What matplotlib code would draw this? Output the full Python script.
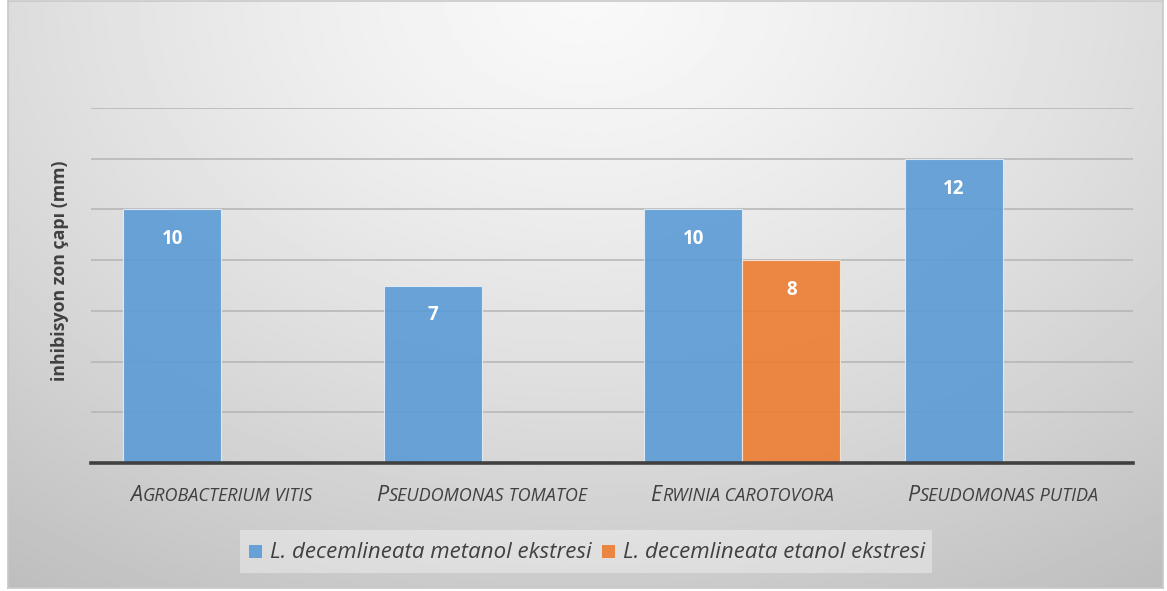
import numpy as np
import matplotlib
matplotlib.use("Agg")
import matplotlib.pyplot as plt
from matplotlib.patches import Rectangle

# --- data ---
bacteria = ["Agrobacterium vitis", "Pseudomonas tomatoe",
            "Erwinia carotovora", "Pseudomonas putida"]
metanol = [10, 7, 10, 12]
etanol = [None, None, 8, None]
series_names = ["L. decemlineata metanol ekstresi",
                "L. decemlineata etanol ekstresi"]

BLUE = "#5B9BD5"
ORANGE = "#ED7D31"
TEXT = "#404040"
FONT = "Open Sans"

fig = plt.figure(figsize=(11.67, 5.91), dpi=100)

# chart area background: soft radial grey gradient inside a thin frame
bg = fig.add_axes([8 / 1167, 3 / 591, 1155 / 1167, 587 / 591])
yy, xx = np.mgrid[0:1:300j, 0:1:600j]
r = np.sqrt(((xx - 0.5) / 0.75) ** 2 + ((yy - 0.0) / 1.05) ** 2)
shade = 0.975 - 0.19 * np.clip(r, 0, 1.2) ** 1.3
bg.imshow(shade, cmap="gray", vmin=0, vmax=1, aspect="auto",
          extent=[0, 1, 0, 1], origin="upper")
bg.set_xlim(0, 1)
bg.set_ylim(0, 1)
bg.set_xticks([])
bg.set_yticks([])
for s in bg.spines.values():
    s.set_color("#c8c8c8")
    s.set_linewidth(1.2)

ax = fig.add_axes([91 / 1167, 128 / 591, 1042 / 1167, 355 / 591])
ax.patch.set_alpha(0)

x = np.arange(len(bacteria))
w = 0.376
ax.set_xlim(-0.5, len(bacteria) - 0.5)
ax.set_ylim(0, 14)
ax.set_yticks(np.arange(0, 15, 2))
ax.yaxis.grid(True, color="#b4b4b4", linewidth=1.1)
ax.set_axisbelow(True)
ax.tick_params(axis="y", length=0, labelleft=False)
ax.tick_params(axis="x", length=0, labelbottom=False)
for side in ["top", "right", "left"]:
    ax.spines[side].set_visible(False)
ax.spines["bottom"].set_color(TEXT)
ax.spines["bottom"].set_linewidth(2.6)
ax.spines["bottom"].set_zorder(5)

for i, v in enumerate(metanol):
    if v is None:
        continue
    ax.bar(x[i] - w / 2, v, w, color=BLUE, alpha=0.9,
           edgecolor="#e6eef7", linewidth=0.8, zorder=3)
    ax.annotate(str(v), (x[i] - w / 2, v), xytext=(0, -30),
                textcoords="offset pixels",
                ha="center", va="center", color="white",
                fontsize=13.5, fontweight="bold", family=FONT, zorder=4)
for i, v in enumerate(etanol):
    if v is None:
        continue
    ax.bar(x[i] + w / 2, v, w, color=ORANGE, alpha=0.9,
           edgecolor="#f7e6dc", linewidth=0.8, zorder=3)
    ax.annotate(str(v), (x[i] + w / 2, v), xytext=(0, -30),
                textcoords="offset pixels",
                ha="center", va="center", color="white",
                fontsize=13.5, fontweight="bold", family=FONT, zorder=4)

ax.set_ylabel("inhibisyon zon çapı (mm)", fontsize=12.8, fontweight="bold",
              color=TEXT, family=FONT)
ax.yaxis.set_label_coords(-0.021, 0.541)

# small-caps italic category labels: big first letter + smaller capitals
renderer = fig.canvas.get_renderer()
label_y = 591 - 494
big, small = 15.5, 13
for i, name in enumerate(bacteria):
    parts = []
    for word_i, word in enumerate(name.split()):
        if word_i == 0:
            parts.append((word[0].upper(), big, 0.5))
            parts.append((word[1:].upper(), small, 0))
        else:
            parts.append((" " + word.upper(), small, 0))
    texts = [fig.text(0, 0, t, fontsize=s, style="italic", color=TEXT,
                      family=FONT, va="baseline", ha="left")
             for t, s, _ in parts]
    widths = [t.get_window_extent(renderer).width + k
              for t, (_, _, k) in zip(texts, parts)]
    cx = ax.transData.transform((x[i], 0))[0]
    start = cx - sum(widths) / 2
    for t, wd in zip(texts, widths):
        t.set_position((start / 1167, (label_y - 7) / 591))
        start += wd

# legend
leg_ax = fig.add_axes([0, 0, 1, 1], facecolor="none")
leg_ax.set_xlim(0, 1167)
leg_ax.set_ylim(591, 0)
leg_ax.axis("off")
leg_ax.add_patch(Rectangle((240, 530), 692, 43, facecolor="white",
                           alpha=0.35, edgecolor="none"))
lx = 249
for name, col in zip(series_names, [BLUE, ORANGE]):
    leg_ax.add_patch(Rectangle((lx, 545), 13, 13, facecolor=col,
                               alpha=0.9, edgecolor="none"))
    t = leg_ax.text(lx + 21, 552, name, fontsize=16, style="italic",
                    color=TEXT, family=FONT, va="center", ha="left")
    lx += 21 + t.get_window_extent(renderer).width + 10

fig.savefig("out.png", dpi=100, facecolor="white")
